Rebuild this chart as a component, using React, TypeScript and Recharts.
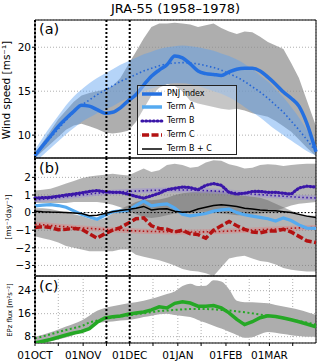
import {
  ComposedChart,
  Area,
  Line,
  XAxis,
  YAxis,
  CartesianGrid,
  ReferenceLine,
  ReferenceArea,
} from 'recharts';

// days since 01 OCT
const days = [0, 5, 10, 15, 20, 25, 30, 35, 40, 45, 50, 55, 60, 65, 70, 75, 80, 85, 90, 95, 100, 105, 110, 115, 120, 125, 130, 135, 140, 145, 150, 155, 160, 165, 170, 175, 181];
const dayTicks = [0, 15, 31, 46, 61, 76, 92, 107, 123, 138, 151, 166];
const monthLabels: Record<number, string> = { 0: '01OCT', 31: '01NOV', 61: '01DEC', 92: '01JAN', 123: '01FEB', 151: '01MAR' };
const markerDays = [0, 46, 61];

// (a) wind speed
const pnjIndex = [7.7, 8.8, 9.9, 11.0, 11.9, 12.7, 13.4, 13.3, 12.9, 12.5, 12.6, 13.1, 13.9, 14.6, 15.7, 16.7, 17.4, 18.0, 19.0, 18.8, 18.1, 17.3, 17.0, 16.9, 16.8, 17.2, 17.5, 17.6, 17.6, 17.3, 16.6, 15.8, 14.9, 14.2, 13.3, 11.4, 8.1];
const pnjFit = [7.6, 8.7, 9.7, 10.7, 11.7, 12.6, 13.4, 14.0, 14.6, 15.1, 15.6, 16.1, 16.5, 16.9, 17.3, 17.6, 17.9, 18.1, 18.2, 18.25, 18.2, 18.1, 17.9, 17.7, 17.4, 17.0, 16.6, 16.1, 15.5, 14.9, 14.2, 13.4, 12.6, 11.6, 10.6, 9.5, 8.1];
const pnjSpreadLo = [7.4, 8.2, 9.0, 9.8, 10.6, 11.1, 11.3, 11.0, 10.7, 10.3, 10.2, 10.3, 10.5, 11.5, 13.0, 14.5, 15.4, 15.8, 15.6, 15.0, 13.9, 13.6, 13.4, 13.2, 13.0, 12.9, 13.0, 12.8, 12.5, 12.3, 12.1, 11.6, 11.0, 10.4, 9.5, 8.6, 7.6];
const pnjSpreadHi = [8.0, 9.2, 10.5, 11.8, 12.8, 13.8, 14.5, 14.8, 15.0, 15.2, 15.6, 16.5, 18.0, 19.5, 21.0, 22.3, 22.7, 22.7, 22.8, 22.7, 22.6, 22.3, 22.5, 22.7, 22.2, 21.8, 21.5, 21.8, 21.7, 21.2, 20.6, 20.2, 19.8, 18.2, 16.5, 14.0, 11.0];
const termABandLo = [6.9, 7.7, 8.5, 9.3, 10.1, 10.8, 11.5, 12.0, 12.5, 12.9, 13.3, 13.8, 14.2, 14.6, 15.0, 15.3, 15.6, 15.8, 15.9, 15.9, 15.8, 15.6, 15.3, 15.0, 14.7, 14.3, 13.8, 13.2, 12.6, 12.0, 11.3, 10.6, 10.0, 9.4, 8.8, 8.2, 7.7];
const termABandHi = [8.3, 9.7, 11.0, 12.2, 13.4, 14.4, 15.2, 15.9, 16.5, 17.0, 17.5, 18.0, 18.4, 18.8, 19.2, 19.5, 19.8, 20.0, 20.1, 20.2, 20.1, 20.0, 19.8, 19.6, 19.3, 19.0, 18.6, 18.1, 17.5, 16.8, 16.1, 15.2, 14.3, 13.2, 12.0, 10.6, 8.6];

// (b) tendency terms
const termA = [0.38, 0.42, 0.45, 0.4, 0.3, 0.1, -0.1, -0.25, -0.38, -0.15, 0.05, 0.1, 0.12, 0.4, 0.65, 0.38, 0.45, 0.5, 0.25, -0.1, -0.19, -0.12, -0.05, 0.08, 0.15, 0.2, 0.0, -0.12, -0.2, -0.27, -0.35, -0.48, -0.3, -0.45, -0.7, -0.88, -0.9];
const termB = [0.83, 0.85, 0.87, 0.93, 1.0, 1.05, 1.12, 1.2, 1.25, 1.18, 1.15, 1.15, 1.05, 0.92, 0.82, 0.95, 1.1, 1.3, 1.38, 1.45, 1.42, 1.3, 1.55, 1.65, 1.55, 1.15, 1.05, 1.1, 1.2, 1.2, 1.15, 1.15, 1.1, 1.05, 1.4, 1.5, 1.45];
const termC = [-0.84, -0.8, -0.85, -0.97, -0.95, -0.9, -0.95, -1.2, -1.45, -1.2, -1.0, -0.85, -0.6, -0.35, -0.3, -0.75, -0.9, -0.95, -1.1, -1.0, -1.2, -1.25, -1.45, -1.0, -0.75, -0.5, -0.75, -0.95, -1.1, -1.15, -1.05, -1.05, -0.95, -1.1, -1.35, -1.6, -1.7];
const termBC = [0.08, 0.05, 0.03, 0.02, 0.0, -0.02, -0.05, -0.18, -0.15, -0.05, 0.05, 0.12, 0.18, 0.25, 0.35, 0.15, 0.2, 0.22, 0.08, 0.02, 0.05, 0.2, 0.3, 0.4, 0.45, 0.4, 0.35, 0.25, 0.2, 0.15, 0.12, 0.1, 0.05, 0.0, -0.1, -0.2, -0.28];
const termBFit = [0.72, 0.76, 0.8, 0.85, 0.9, 0.95, 1.0, 1.05, 1.1, 1.13, 1.16, 1.18, 1.2, 1.22, 1.24, 1.26, 1.27, 1.28, 1.28, 1.28, 1.28, 1.27, 1.25, 1.23, 1.2, 1.17, 1.13, 1.09, 1.05, 1.02, 0.99, 0.96, 0.93, 0.9, 0.87, 0.85, 0.83];
const termCFit = [-0.65, -0.69, -0.73, -0.77, -0.8, -0.84, -0.87, -0.9, -0.93, -0.96, -0.98, -1.0, -1.02, -1.04, -1.06, -1.07, -1.08, -1.09, -1.1, -1.1, -1.1, -1.1, -1.09, -1.08, -1.07, -1.05, -1.03, -1.01, -0.99, -0.97, -0.95, -0.93, -0.91, -0.89, -0.87, -0.86, -0.85];
const spreadBHi = [1.25, 1.3, 1.35, 1.5, 1.65, 1.8, 1.95, 2.05, 2.1, 2.15, 2.2, 2.15, 2.1, 2.3, 2.5, 2.3, 2.4, 2.7, 2.78, 2.7, 2.55, 2.6, 2.85, 2.97, 2.95, 2.75, 2.65, 2.5, 2.55, 2.7, 2.75, 2.72, 2.65, 2.7, 2.75, 2.78, 2.78];
const spreadBLo = [0.55, 0.55, 0.55, 0.55, 0.55, 0.6, 0.6, 0.6, 0.6, 0.55, 0.45, 0.3, 0.1, -0.1, -0.25, -0.3, -0.25, -0.15, -0.05, 0.0, 0.0, 0.05, 0.05, 0.0, -0.05, -0.1, -0.15, -0.15, -0.1, -0.05, 0.0, 0.1, 0.25, 0.4, 0.5, 0.55, 0.6];
const spreadCHi = [0.25, 0.25, 0.2, 0.1, 0.0, -0.1, -0.2, -0.35, -0.45, -0.3, -0.05, 0.2, 0.4, 0.6, 0.75, 0.7, 0.75, 0.85, 1.0, 1.1, 1.15, 1.2, 1.2, 1.25, 1.2, 1.1, 1.0, 0.95, 0.9, 0.85, 0.7, 0.5, 0.3, 0.1, -0.05, -0.15, -0.2];
const spreadCLo = [-1.34, -1.45, -1.55, -1.7, -1.9, -2.0, -2.1, -2.2, -2.2, -2.2, -2.2, -2.1, -2.1, -2.4, -2.5, -2.6, -2.7, -2.85, -3.0, -3.2, -3.3, -3.35, -3.45, -3.6, -3.1, -2.6, -2.5, -2.45, -2.6, -2.75, -2.8, -2.95, -3.15, -3.25, -3.3, -3.35, -3.35];

// (c) EPz flux
const epz = [5.8, 6.4, 7.0, 7.8, 8.6, 9.3, 9.8, 10.8, 13.0, 14.5, 14.9, 15.2, 15.8, 16.2, 16.6, 17.3, 18.4, 18.0, 19.6, 20.1, 19.7, 18.6, 18.6, 18.8, 18.0, 16.3, 14.0, 12.2, 13.2, 14.6, 15.3, 15.0, 14.5, 13.9, 13.2, 12.4, 11.4];
const epzFit = [7.4, 8.1, 8.8, 9.6, 10.3, 11.0, 11.7, 12.9, 13.6, 14.2, 14.6, 15.0, 15.4, 15.8, 16.1, 16.5, 16.9, 17.1, 17.3, 17.5, 17.6, 17.6, 17.6, 17.5, 17.3, 17.1, 16.8, 16.5, 16.1, 15.7, 15.3, 14.9, 14.4, 13.9, 13.4, 12.9, 12.2];
const epzSpreadLo = [5.6, 5.9, 6.4, 7.0, 7.7, 8.6, 10.0, 11.3, 12.6, 13.1, 13.3, 13.6, 13.8, 14.2, 14.8, 15.3, 15.8, 16.0, 15.5, 15.2, 14.8, 13.8, 12.8, 11.8, 10.8, 9.7, 8.6, 7.6, 7.8, 8.8, 9.6, 9.4, 8.9, 8.5, 8.2, 8.0, 8.0];
const epzSpreadHi = [8.0, 8.7, 9.5, 10.5, 11.5, 12.5, 13.6, 15.3, 17.0, 18.0, 18.6, 19.1, 19.6, 20.0, 20.5, 21.2, 22.0, 22.8, 23.7, 25.6, 26.4, 25.6, 25.7, 27.6, 27.2, 24.5, 20.5, 20.0, 20.0, 19.8, 19.6, 19.0, 18.5, 18.0, 17.4, 16.6, 15.5];

const FONT = '"DejaVu Sans", Verdana, sans-serif';
const C_PNJ = '#2570e0';
const C_A = '#55aaf0';
const C_B = '#3a16a8';
const C_C = '#b31212';
const C_EPZ = '#25a825';

const tableA = days.map((day, i) => ({
  day,
  pnj: pnjIndex[i],
  fit: pnjFit[i],
  spread: [pnjSpreadLo[i], pnjSpreadHi[i]],
  bandA: [termABandLo[i], termABandHi[i]],
}));

const tableB = days.map((day, i) => ({
  day,
  a: termA[i],
  b: termB[i],
  c: termC[i],
  bc: termBC[i],
  bFit: termBFit[i],
  cFit: termCFit[i],
  spreadB: [spreadBLo[i], spreadBHi[i]],
  spreadC: [spreadCLo[i], spreadCHi[i]],
}));

const tableC = days.map((day, i) => ({
  day,
  epz: epz[i],
  fit: epzFit[i],
  spread: [epzSpreadLo[i], epzSpreadHi[i]],
}));

const minus = (v: number) => (v < 0 ? '\u2212' + Math.abs(v) : String(v));

function xAxis(showLabels: boolean) {
  return (
    <XAxis
      type="number"
      dataKey="day"
      domain={[0, 181]}
      ticks={dayTicks}
      tickFormatter={(d: number) => monthLabels[d] ?? ''}
      tick={showLabels ? { fontSize: 10.5, fill: '#000' } : false}
      tickLine={showLabels ? { stroke: '#000' } : false}
      tickSize={3}
      tickMargin={6}
      axisLine={false}
      height={showLabels ? 20 : 0}
      interval={0}
    />
  );
}

function yAxis(domain: [number, number], ticks: number[]) {
  return (
    <YAxis
      type="number"
      domain={domain}
      ticks={ticks}
      allowDataOverflow
      width={35}
      tickSize={3}
      tickMargin={1}
      tickFormatter={minus}
      tick={{ fontSize: 10.5, fill: '#000' }}
      tickLine={{ stroke: '#000' }}
      axisLine={false}
      interval={0}
    />
  );
}

function markers() {
  return markerDays.map((d) => (
    <ReferenceLine key={d} x={d} stroke="#000" strokeWidth={2} strokeDasharray="2 2" />
  ));
}

function frame(y1: number, y2: number) {
  return <ReferenceArea x1={0} x2={181} y1={y1} y2={y2} fill="none" stroke="#000" strokeWidth={1} ifOverflow="visible" />;
}

const grid = <CartesianGrid stroke="#b0b0b0" strokeDasharray="1 2" />;

function RotLabel({ x, y, size, text }: { x: number; y: number; size: number; text: string }) {
  return (
    <div
      style={{
        position: 'absolute',
        left: x,
        top: y,
        transform: 'translate(-50%, -50%) rotate(-90deg)',
        whiteSpace: 'nowrap',
        fontSize: size,
        lineHeight: 1,
      }}
    >
      {text}
    </div>
  );
}

const legendRows = [
  { label: 'PNJ index', color: C_PNJ, width: 3.5, dash: undefined, cap: 'butt' },
  { label: 'Term A', color: C_A, width: 3.5, dash: undefined, cap: 'butt' },
  { label: 'Term B', color: C_B, width: 3.2, dash: '0.8 3', cap: 'round' },
  { label: 'Term C', color: C_C, width: 3.5, dash: '7 2.5', cap: 'butt' },
  { label: 'Term B + C', color: '#000', width: 1.5, dash: undefined, cap: 'butt' },
];

function LegendBox() {
  return (
    <div
      style={{
        position: 'absolute',
        left: 137,
        top: 85,
        width: 100,
        height: 70,
        boxSizing: 'border-box',
        border: '1px solid #222',
        background: 'rgba(255,255,255,0.3)',
      }}
    >
      {legendRows.map((r, i) => {
        const cy = 7.7 + i * 13.7;
        return (
          <div key={r.label}>
            <svg style={{ position: 'absolute', left: 2, top: cy - 4 }} width={24} height={8}>
              <line
                x1={2}
                x2={22}
                y1={4}
                y2={4}
                stroke={r.color}
                strokeWidth={r.width}
                strokeDasharray={r.dash}
                strokeLinecap={r.cap as 'butt' | 'round'}
              />
            </svg>
            <div style={{ position: 'absolute', left: 29, top: cy - 5, fontSize: 8, lineHeight: '10px', whiteSpace: 'nowrap' }}>
              {r.label}
            </div>
          </div>
        );
      })}
    </div>
  );
}

export default function App() {
  return (
    <div
      style={{
        position: 'absolute',
        left: 0,
        top: 0,
        width: 320,
        height: 363,
        overflow: 'hidden',
        background: '#fff',
        fontFamily: FONT,
        color: '#000',
      }}
    >
      <div style={{ position: 'absolute', left: 35, top: 1, width: 281, textAlign: 'center', fontSize: 13, lineHeight: '16px' }}>
        JRA-55 (1958–1978)
      </div>

      <div style={{ position: 'absolute', left: 0, top: 10 }}>
        <ComposedChart width={320} height={158} data={tableA} margin={{ top: 10, right: 4, bottom: 10, left: 0 }}>
          {grid}
          {xAxis(false)}
          {yAxis([7.4, 23.1], [10, 15, 20])}
          <Area dataKey="spread" fill="#8c8c8c" fillOpacity={0.7} stroke="none" dot={false} activeDot={false} isAnimationActive={false} />
          <Area dataKey="bandA" type="monotone" fill="#5aa0f0" fillOpacity={0.45} stroke="none" dot={false} activeDot={false} isAnimationActive={false} />
          <Line dataKey="fit" type="monotone" stroke="#2566d6" strokeWidth={1.6} strokeDasharray="1.5 2.5" dot={false} activeDot={false} isAnimationActive={false} />
          <Line dataKey="pnj" type="monotone" stroke={C_PNJ} strokeWidth={3.5} dot={false} activeDot={false} isAnimationActive={false} />
          {markers()}
          {frame(7.4, 23.1)}
        </ComposedChart>
      </div>

      <div style={{ position: 'absolute', left: 0, top: 148 }}>
        <ComposedChart width={320} height={138} data={tableB} margin={{ top: 10, right: 4, bottom: 10, left: 0 }}>
          {grid}
          {xAxis(false)}
          {yAxis([-3.6, 3.1], [-3, -2, -1, 0, 1, 2])}
          <Area dataKey="spreadB" fill="#6c6c6c" fillOpacity={0.51} stroke="none" dot={false} activeDot={false} isAnimationActive={false} />
          <Area dataKey="spreadC" fill="#6c6c6c" fillOpacity={0.51} stroke="none" dot={false} activeDot={false} isAnimationActive={false} />
          <ReferenceLine y={0} stroke="#000" strokeWidth={1} strokeDasharray="1.5 2" />
          <Line dataKey="bFit" type="monotone" stroke="#9a8ad8" strokeOpacity={0.45} strokeWidth={5} dot={false} activeDot={false} isAnimationActive={false} />
          <Line dataKey="bFit" type="monotone" stroke={C_B} strokeWidth={1.6} strokeDasharray="1.5 2.5" dot={false} activeDot={false} isAnimationActive={false} />
          <Line dataKey="cFit" type="monotone" stroke="#e08080" strokeOpacity={0.45} strokeWidth={5} dot={false} activeDot={false} isAnimationActive={false} />
          <Line dataKey="cFit" type="monotone" stroke={C_C} strokeWidth={1.6} strokeDasharray="1.5 2.5" dot={false} activeDot={false} isAnimationActive={false} />
          <Line dataKey="a" stroke={C_A} strokeWidth={3.2} dot={false} activeDot={false} isAnimationActive={false} />
          <Line dataKey="bc" stroke="#000" strokeWidth={1.5} dot={false} activeDot={false} isAnimationActive={false} />
          <Line dataKey="b" stroke={C_B} strokeWidth={3.2} strokeDasharray="0.8 2.6" strokeLinecap="round" dot={false} activeDot={false} isAnimationActive={false} />
          <Line dataKey="c" stroke={C_C} strokeWidth={3.5} strokeDasharray="7 2.5" dot={false} activeDot={false} isAnimationActive={false} />
          {markers()}
          {frame(-3.6, 3.1)}
        </ComposedChart>
      </div>

      <div style={{ position: 'absolute', left: 0, top: 266 }}>
        <ComposedChart width={320} height={97} data={tableC} margin={{ top: 10, right: 4, bottom: 0, left: 0 }}>
          {grid}
          {xAxis(true)}
          {yAxis([5.8, 29.1], [8, 16, 24])}
          <Area dataKey="spread" type="monotone" fill="#adadad" fillOpacity={1} stroke="none" dot={false} activeDot={false} isAnimationActive={false} />
          <Line dataKey="fit" type="monotone" stroke={C_EPZ} strokeWidth={2} strokeDasharray="2 2.5" dot={false} activeDot={false} isAnimationActive={false} />
          <Line dataKey="epz" stroke={C_EPZ} strokeWidth={3.5} dot={false} activeDot={false} isAnimationActive={false} />
          {markers()}
          {frame(5.8, 29.1)}
        </ComposedChart>
      </div>

      <div style={{ position: 'absolute', left: 39, top: 21, fontSize: 14.5, lineHeight: '17px' }}>(a)</div>
      <div style={{ position: 'absolute', left: 39, top: 160, fontSize: 14.5, lineHeight: '17px' }}>(b)</div>
      <div style={{ position: 'absolute', left: 39, top: 278, fontSize: 14.5, lineHeight: '17px' }}>(c)</div>

      <RotLabel x={6} y={90} size={10.5} text="Wind speed [ms⁻¹]" />
      <RotLabel x={9} y={217} size={7.6} text="[ms⁻¹day⁻¹]" />
      <RotLabel x={10} y={310} size={6.8} text="EPz flux [m²s⁻²]" />

      <LegendBox />
    </div>
  );
}
